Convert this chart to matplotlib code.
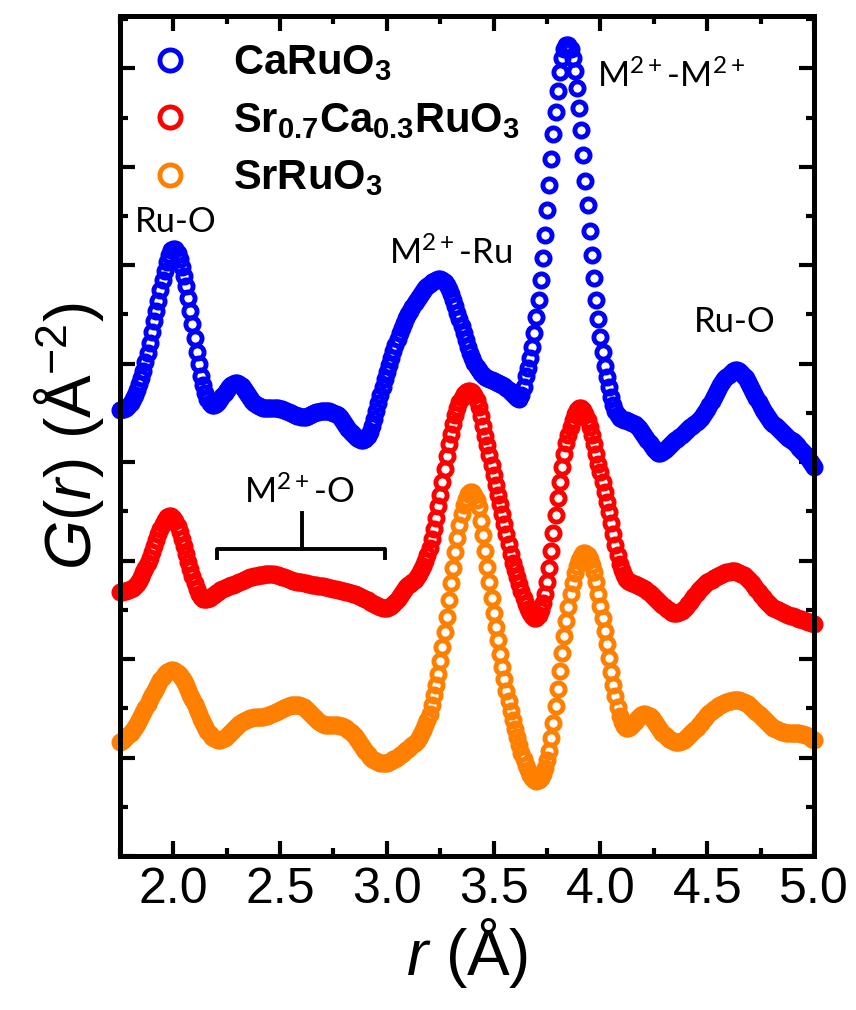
import numpy as np
import matplotlib
matplotlib.use("Agg")
import matplotlib.pyplot as plt
from matplotlib.ticker import MultipleLocator

# PDF curves G(r), already shifted vertically (one major tick = 1 unit),
# sampled every 0.01 A from 1.75 to 5.00 A
r_start = 1.75
r_step = 0.01

g_caruo3 = [
    4.53, 4.54, 4.54, 4.55, 4.57, 4.60, 4.64, 4.68, 4.73, 4.79,
    4.85, 4.93, 5.02, 5.11, 5.21, 5.32, 5.43, 5.54, 5.64, 5.75,
    5.85, 5.94, 6.03, 6.10, 6.15, 6.17, 6.16, 6.12, 6.06, 5.98,
    5.89, 5.79, 5.67, 5.54, 5.40, 5.26, 5.12, 5.00, 4.88, 4.78,
    4.70, 4.64, 4.60, 4.58, 4.58, 4.59, 4.61, 4.64, 4.67, 4.70,
    4.73, 4.76, 4.78, 4.79, 4.80, 4.80, 4.79, 4.77, 4.74, 4.71,
    4.68, 4.65, 4.62, 4.60, 4.58, 4.57, 4.56, 4.55, 4.55, 4.55,
    4.55, 4.55, 4.55, 4.55, 4.55, 4.54, 4.54, 4.53, 4.52, 4.51,
    4.50, 4.49, 4.48, 4.47, 4.47, 4.46, 4.46, 4.46, 4.47, 4.48,
    4.49, 4.50, 4.51, 4.51, 4.52, 4.52, 4.52, 4.52, 4.52, 4.51,
    4.50, 4.49, 4.48, 4.46, 4.43, 4.40, 4.37, 4.34, 4.31, 4.29,
    4.27, 4.25, 4.24, 4.23, 4.23, 4.24, 4.27, 4.31, 4.37, 4.44,
    4.52, 4.60, 4.68, 4.76, 4.84, 4.92, 4.99, 5.06, 5.13, 5.19,
    5.25, 5.31, 5.36, 5.41, 5.46, 5.50, 5.54, 5.58, 5.62, 5.65,
    5.68, 5.71, 5.74, 5.77, 5.79, 5.81, 5.83, 5.84, 5.85, 5.86,
    5.86, 5.85, 5.83, 5.80, 5.76, 5.71, 5.65, 5.59, 5.52, 5.45,
    5.38, 5.31, 5.24, 5.17, 5.11, 5.06, 5.01, 4.97, 4.94, 4.91,
    4.89, 4.87, 4.85, 4.84, 4.83, 4.82, 4.81, 4.80, 4.79, 4.78,
    4.77, 4.75, 4.73, 4.71, 4.69, 4.67, 4.65, 4.64, 4.68, 4.76,
    4.88, 4.96, 5.06, 5.17, 5.31, 5.47, 5.65, 5.85, 6.07, 6.31,
    6.56, 6.82, 7.08, 7.33, 7.56, 7.77, 7.96, 8.10, 8.20, 8.24,
    8.24, 8.20, 8.10, 7.97, 7.80, 7.60, 7.37, 7.12, 6.86, 6.61,
    6.35, 6.10, 5.87, 5.65, 5.45, 5.27, 5.12, 4.98, 4.87, 4.76,
    4.66, 4.58, 4.52, 4.48, 4.45, 4.44, 4.43, 4.43, 4.42, 4.41,
    4.40, 4.39, 4.37, 4.35, 4.32, 4.29, 4.26, 4.22, 4.19, 4.16,
    4.13, 4.11, 4.09, 4.09, 4.10, 4.12, 4.14, 4.16, 4.18, 4.20,
    4.22, 4.24, 4.26, 4.28, 4.30, 4.32, 4.34, 4.36, 4.37, 4.39,
    4.41, 4.43, 4.45, 4.48, 4.51, 4.54, 4.58, 4.62, 4.66, 4.70,
    4.74, 4.78, 4.81, 4.84, 4.87, 4.89, 4.91, 4.93, 4.94, 4.94,
    4.93, 4.91, 4.88, 4.85, 4.81, 4.77, 4.73, 4.69, 4.65, 4.61,
    4.57, 4.53, 4.50, 4.47, 4.44, 4.41, 4.39, 4.37, 4.35, 4.33,
    4.31, 4.29, 4.27, 4.25, 4.23, 4.21, 4.19, 4.17, 4.14, 4.12,
    4.10, 4.07, 4.04, 4.01, 3.98, 3.95,
]

g_srca = [
    2.68, 2.68, 2.69, 2.69, 2.70, 2.71, 2.72, 2.74, 2.76, 2.79,
    2.83, 2.88, 2.93, 2.98, 3.03, 3.09, 3.15, 3.21, 3.27, 3.32,
    3.37, 3.41, 3.44, 3.45, 3.45, 3.43, 3.40, 3.35, 3.29, 3.22,
    3.15, 3.07, 2.99, 2.91, 2.84, 2.77, 2.71, 2.66, 2.63, 2.61,
    2.61, 2.61, 2.62, 2.64, 2.65, 2.67, 2.68, 2.70, 2.71, 2.72,
    2.73, 2.74, 2.75, 2.75, 2.76, 2.77, 2.78, 2.79, 2.80, 2.81,
    2.82, 2.83, 2.83, 2.84, 2.84, 2.85, 2.85, 2.85, 2.86, 2.86,
    2.86, 2.86, 2.86, 2.85, 2.85, 2.84, 2.83, 2.83, 2.82, 2.81,
    2.80, 2.79, 2.79, 2.78, 2.78, 2.78, 2.77, 2.77, 2.76, 2.76,
    2.75, 2.75, 2.75, 2.74, 2.74, 2.74, 2.73, 2.73, 2.72, 2.72,
    2.71, 2.71, 2.70, 2.70, 2.69, 2.69, 2.68, 2.68, 2.67, 2.66,
    2.66, 2.65, 2.64, 2.63, 2.62, 2.61, 2.60, 2.58, 2.57, 2.56,
    2.55, 2.54, 2.53, 2.52, 2.52, 2.52, 2.53, 2.54, 2.56, 2.58,
    2.61, 2.64, 2.67, 2.70, 2.73, 2.75, 2.76, 2.78, 2.80, 2.83,
    2.86, 2.90, 2.95, 3.00, 3.06, 3.13, 3.22, 3.32, 3.43, 3.55,
    3.67, 3.80, 3.93, 4.06, 4.18, 4.29, 4.39, 4.48, 4.55, 4.61,
    4.65, 4.69, 4.71, 4.72, 4.72, 4.71, 4.68, 4.63, 4.56, 4.47,
    4.37, 4.27, 4.17, 4.07, 3.97, 3.87, 3.77, 3.67, 3.57, 3.47,
    3.37, 3.27, 3.17, 3.07, 2.98, 2.90, 2.83, 2.76, 2.69, 2.62,
    2.56, 2.51, 2.47, 2.44, 2.42, 2.42, 2.45, 2.50, 2.57, 2.66,
    2.78, 2.93, 3.10, 3.28, 3.46, 3.64, 3.80, 3.95, 4.08, 4.19,
    4.28, 4.36, 4.43, 4.49, 4.53, 4.55, 4.55, 4.53, 4.49, 4.43,
    4.36, 4.28, 4.18, 4.08, 3.98, 3.90, 3.80, 3.70, 3.60, 3.49,
    3.38, 3.27, 3.16, 3.06, 2.97, 2.90, 2.85, 2.81, 2.79, 2.78,
    2.77, 2.76, 2.75, 2.74, 2.73, 2.72, 2.71, 2.69, 2.67, 2.65,
    2.63, 2.61, 2.59, 2.57, 2.55, 2.53, 2.51, 2.50, 2.48, 2.47,
    2.47, 2.47, 2.48, 2.49, 2.51, 2.53, 2.56, 2.58, 2.61, 2.64,
    2.67, 2.70, 2.72, 2.74, 2.76, 2.78, 2.79, 2.80, 2.82, 2.83,
    2.84, 2.85, 2.86, 2.87, 2.88, 2.88, 2.89, 2.89, 2.89, 2.88,
    2.87, 2.86, 2.85, 2.83, 2.81, 2.79, 2.77, 2.74, 2.71, 2.68,
    2.65, 2.63, 2.60, 2.58, 2.56, 2.54, 2.52, 2.51, 2.50, 2.49,
    2.48, 2.47, 2.46, 2.45, 2.44, 2.44, 2.43, 2.42, 2.41, 2.41,
    2.40, 2.39, 2.38, 2.38, 2.37, 2.36,
]

g_srruo3 = [
    1.16, 1.17, 1.19, 1.21, 1.23, 1.25, 1.28, 1.31, 1.34, 1.38,
    1.42, 1.46, 1.50, 1.54, 1.59, 1.63, 1.67, 1.71, 1.75, 1.79,
    1.82, 1.85, 1.87, 1.88, 1.89, 1.89, 1.88, 1.86, 1.84, 1.81,
    1.78, 1.74, 1.69, 1.64, 1.59, 1.54, 1.49, 1.44, 1.39, 1.35,
    1.31, 1.27, 1.24, 1.21, 1.20, 1.19, 1.18, 1.18, 1.19, 1.20,
    1.22, 1.24, 1.26, 1.28, 1.30, 1.32, 1.34, 1.36, 1.37, 1.38,
    1.39, 1.40, 1.40, 1.41, 1.41, 1.41, 1.41, 1.41, 1.42, 1.42,
    1.43, 1.44, 1.45, 1.46, 1.47, 1.48, 1.49, 1.50, 1.51, 1.52,
    1.53, 1.53, 1.53, 1.53, 1.53, 1.52, 1.51, 1.49, 1.47, 1.45,
    1.43, 1.41, 1.39, 1.37, 1.35, 1.34, 1.33, 1.33, 1.33, 1.33,
    1.33, 1.33, 1.33, 1.32, 1.32, 1.31, 1.30, 1.28, 1.26, 1.24,
    1.22, 1.19, 1.16, 1.13, 1.10, 1.07, 1.04, 1.01, 0.99, 0.97,
    0.96, 0.95, 0.94, 0.94, 0.94, 0.94, 0.95, 0.96, 0.98, 0.99,
    1.01, 1.03, 1.04, 1.06, 1.08, 1.09, 1.11, 1.13, 1.15, 1.17,
    1.20, 1.24, 1.28, 1.33, 1.38, 1.44, 1.53, 1.63, 1.74, 1.85,
    1.98, 2.12, 2.27, 2.43, 2.60, 2.77, 2.93, 3.09, 3.23, 3.36,
    3.47, 3.56, 3.63, 3.68, 3.70, 3.70, 3.67, 3.62, 3.54, 3.40,
    3.26, 3.10, 2.94, 2.78, 2.62, 2.47, 2.33, 2.19, 2.05, 1.92,
    1.80, 1.68, 1.57, 1.47, 1.38, 1.29, 1.21, 1.13, 1.05, 0.98,
    0.92, 0.87, 0.82, 0.79, 0.77, 0.76, 0.77, 0.79, 0.83, 0.89,
    0.97, 1.07, 1.20, 1.35, 1.52, 1.70, 1.88, 2.06, 2.23, 2.39,
    2.53, 2.66, 2.77, 2.87, 2.95, 3.01, 3.05, 3.08, 3.08, 3.06,
    3.02, 2.96, 2.88, 2.78, 2.66, 2.54, 2.42, 2.29, 2.15, 2.01,
    1.87, 1.74, 1.62, 1.51, 1.42, 1.36, 1.32, 1.30, 1.30, 1.31,
    1.33, 1.36, 1.39, 1.41, 1.43, 1.44, 1.44, 1.43, 1.42, 1.40,
    1.37, 1.34, 1.31, 1.28, 1.25, 1.23, 1.21, 1.19, 1.18, 1.17,
    1.16, 1.16, 1.16, 1.17, 1.18, 1.20, 1.22, 1.24, 1.26, 1.28,
    1.30, 1.33, 1.35, 1.38, 1.40, 1.43, 1.45, 1.47, 1.49, 1.50,
    1.52, 1.53, 1.54, 1.55, 1.56, 1.57, 1.57, 1.58, 1.58, 1.58,
    1.58, 1.57, 1.56, 1.55, 1.54, 1.52, 1.50, 1.48, 1.46, 1.44,
    1.42, 1.40, 1.38, 1.36, 1.34, 1.32, 1.30, 1.29, 1.28, 1.27,
    1.26, 1.26, 1.25, 1.25, 1.25, 1.25, 1.25, 1.25, 1.25, 1.24,
    1.24, 1.23, 1.22, 1.21, 1.19, 1.18,
]

labels = ["CaRuO$_3$", "Sr$_{0.7}$Ca$_{0.3}$RuO$_3$", "SrRuO$_3$"]
colors = ["#0000FF", "#FF0000", "#FF8000"]

# peak assignments: (text, r, level)
peak_names = ["Ru-O", "M$^{2+}$-Ru", "M$^{2+}$-M$^{2+}$", "Ru-O", "M$^{2+}$-O"]
peak_r = [2.01, 3.30, 4.33, 4.63, 2.59]
peak_y = [6.44, 6.12, 7.92, 5.42, 3.70]

# bracket under the M2+-O label
bracket_r = [2.206, 2.991]
bracket_mid = 2.603
bracket_y = 3.12
bracket_hook = 3.03
bracket_top = 3.48

for g in (g_caruo3, g_srca, g_srruo3):
    assert len(g) == 326
r = np.round(r_start + r_step * np.arange(len(g_caruo3)), 2)

plt.rcParams["font.family"] = ["Liberation Sans", "DejaVu Sans"]
plt.rcParams["mathtext.fontset"] = "custom"
plt.rcParams["mathtext.it"] = "Liberation Sans:italic"
plt.rcParams["mathtext.rm"] = "Liberation Sans"
plt.rcParams["mathtext.default"] = "regular"

fig = plt.figure(figsize=(8.56, 10.10), dpi=100)
ax = fig.add_axes([0.140, 0.1525, 0.811, 0.8315])

for g, lab, c in zip((g_caruo3, g_srca, g_srruo3), labels, colors):
    ax.plot(r, g, linestyle="none", marker="o", ms=9.5, mew=3.5,
            mfc="none", mec=c, label=lab, clip_on=False)

ax.set_xlim(1.75, 5.0)
ax.set_ylim(0, 8.53)
ax.xaxis.set_major_locator(MultipleLocator(0.5))
ax.xaxis.set_minor_locator(MultipleLocator(0.25))
ax.yaxis.set_major_locator(MultipleLocator(1))
ax.yaxis.set_minor_locator(MultipleLocator(0.5))
ax.tick_params(which="both", direction="in", top=True, right=True,
               labelleft=False, width=3)
ax.tick_params(which="major", length=11, labelsize=36, pad=8)
ax.tick_params(which="minor", length=6)
for sp in ax.spines.values():
    sp.set_linewidth(3.6)

ax.set_xlabel(r"$\it{r}$ (Å)", fontsize=46, labelpad=2)
ax.set_ylabel(r"$\it{G}$($\it{r}$) (Å$^{-2}$)", fontsize=46, labelpad=10)

for name, x, y in zip(peak_names, peak_r, peak_y):
    ax.text(x, y, name, fontsize=25, family=["Lato", "DejaVu Sans"],
            ha="center", va="center")

ax.plot([bracket_r[0], bracket_r[0], bracket_r[1], bracket_r[1]],
        [bracket_hook, bracket_y, bracket_y, bracket_hook],
        color="black", lw=2.8)
ax.plot([bracket_mid, bracket_mid], [bracket_y, bracket_top],
        color="black", lw=2.8)

ax.legend(loc="upper left", bbox_to_anchor=(0, 1), borderaxespad=0,
          frameon=False, numpoints=1, markerscale=1.6, borderpad=0.65,
          handlelength=1.09, handletextpad=0.97, labelspacing=0.42,
          prop={"size": 30, "weight": "bold"})

fig.savefig("out.png", dpi=100)
